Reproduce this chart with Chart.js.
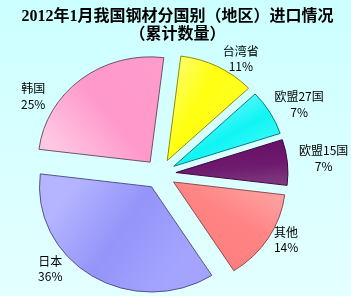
<!DOCTYPE html>
<html>
<head>
<meta charset="utf-8">
<script src="https://cdn.jsdelivr.net/npm/chart.js@4.4.0/dist/chart.umd.min.js"></script>
<style>
  html, body { margin: 0; padding: 0; }
  body { background: linear-gradient(#ccffff, #e4ffff); }
  #wrap { position: relative; width: 351px; height: 296px; }
</style>
</head>
<body>
<div id="wrap"><canvas id="importChart"></canvas></div>
<script>
const regions = ['台湾省', '欧盟27国', '欧盟15国', '其他', '日本', '韩国'];
const shares = [11, 7, 7, 14, 36, 25];
const titleLines = ['2012年1月我国钢材分国别（地区）进口情况', '（累计数量）'];

// start edge, body, end edge (clockwise)
const shades = [
  ['#ffffa8', '#ffff10', '#ffff30'],
  ['#b0ffff', '#10f4f4', '#70ffff'],
  ['#5a005a', '#6e1a6e', '#a080a0'],
  ['#ffb0b0', '#ff8484', '#ff7c7c'],
  ['#a4a4ff', '#9494fa', '#b4b4ff'],
  ['#ffc8e2', '#ff98cb', '#ff9ccc']
];
const edges = ['#8a8a00', '#007c7c', '#3c003c', '#8a4848', '#505088', '#6a5060'];

const ROT = 7;          // first slice starts 7 deg past 12 o'clock
const RADIUS = 112;
const EXPLODE = 16;
const SQUASH = 0.94;
const LABEL_R = 135;
// small hand nudges so labels sit where the original put them
const labelTurn = [6.3, 1.4, -0.6, -3.9, 16, -19.6];
const labelPush = [-5, 0, 5, -4, 0, 3];

function centre(chart) {
  const a = chart.chartArea;
  return { x: (a.left + a.right) / 2, y: (a.top + a.bottom) / 2 };
}

function midAngle(i) {
  const total = shares.reduce((s, v) => s + v, 0);
  let acc = 0;
  for (let k = 0; k < i; k++) acc += shares[k];
  const deg = ROT - 90 + (acc + shares[i] / 2) / total * 360;
  return deg * Math.PI / 180;
}

function sliceFill(context) {
  const chart = context.chart;
  if (!chart.chartArea) return shades[context.dataIndex][1];
  const i = context.dataIndex;
  const c = centre(chart);
  const m = midAngle(i);
  const px = -Math.sin(m), py = Math.cos(m);
  const g = chart.ctx.createLinearGradient(
    c.x - px * RADIUS * 0.6, c.y - py * RADIUS * 0.6,
    c.x + px * RADIUS * 0.6, c.y + py * RADIUS * 0.6);
  g.addColorStop(0, shades[i][0]);
  g.addColorStop(0.5, shades[i][1]);
  g.addColorStop(1, shades[i][2]);
  return g;
}

const explodePie = {
  id: 'explodePie',
  afterDatasetsUpdate(chart) {
    const c = centre(chart);
    chart.getDatasetMeta(0).data.forEach(arc => {
      const m = (arc.startAngle + arc.endAngle) / 2;
      arc.x = c.x + Math.cos(m) * EXPLODE;
      arc.y = c.y + Math.sin(m) * EXPLODE;
    });
  },
  beforeDatasetsDraw(chart) {
    const c = centre(chart);
    const ctx = chart.ctx;
    ctx.save();
    ctx.translate(0, c.y);
    ctx.scale(1, SQUASH);
    ctx.translate(0, -c.y);
  },
  afterDatasetsDraw(chart) {
    const ctx = chart.ctx;
    ctx.restore();
    const c = centre(chart);
    ctx.save();
    ctx.font = '12px "Noto Sans CJK SC", sans-serif';
    ctx.fillStyle = '#000';
    ctx.textAlign = 'center';
    ctx.textBaseline = 'middle';
    chart.getDatasetMeta(0).data.forEach((arc, i) => {
      const lines = [regions[i], shares[i] + '%'];
      const w = Math.max(...lines.map(t => ctx.measureText(t).width));
      const h = 31;
      const r = LABEL_R + labelPush[i];
      const m = (arc.startAngle + arc.endAngle) / 2 + labelTurn[i] * Math.PI / 180;
      const x = c.x + Math.cos(m) * (r + w / 2);
      const y = c.y + Math.sin(m) * (r * SQUASH + h / 2);
      ctx.fillText(lines[0], x, y - 7.5);
      ctx.fillText(lines[1], x, y + 8);
    });
    ctx.restore();
  }
};

const titleText = {
  id: 'titleText',
  afterDraw(chart) {
    const ctx = chart.ctx;
    ctx.save();
    ctx.font = 'bold 16px "Liberation Serif", "Noto Sans CJK SC", serif';
    ctx.fillStyle = '#000';
    ctx.textAlign = 'center';
    ctx.textBaseline = 'middle';
    titleLines.forEach((t, k) => ctx.fillText(t, chart.width / 2 + 2, 17 + k * 18));
    ctx.restore();
  }
};

new Chart(document.getElementById('importChart'), {
  type: 'pie',
  data: {
    labels: regions,
    datasets: [{
      data: shares,
      backgroundColor: sliceFill,
      borderColor: edges,
      borderWidth: 1
    }]
  },
  options: {
    responsive: true,
    maintainAspectRatio: false,
    animation: false,
    rotation: ROT,
    radius: RADIUS,
    layout: { padding: { top: 52, right: 31, bottom: 0, left: 0 } },
    plugins: {
      legend: { display: false },
      tooltip: { enabled: false }
    }
  },
  plugins: [explodePie, titleText]
});
</script>
</body>
</html>
